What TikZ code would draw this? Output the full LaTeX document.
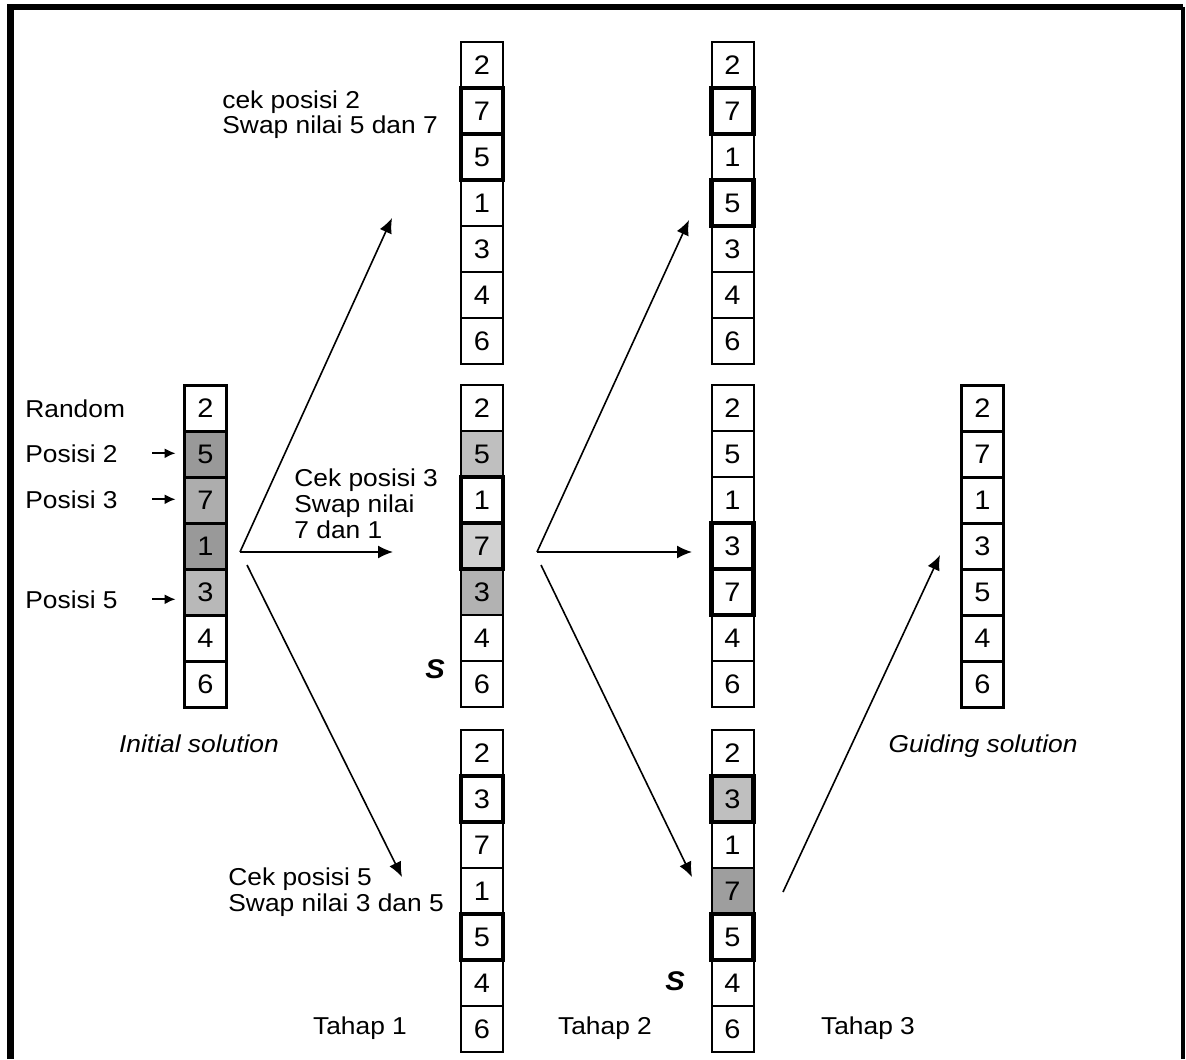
\documentclass[tikz,border=0pt]{standalone}
\usepackage{fontspec}
\setmainfont{Liberation Sans}[FakeStretch=1.08]
\usetikzlibrary{arrows.meta}

% one column of seven cells: name, x, top y, list of value/fill
\newcommand{\kolom}[5][]{%
  \foreach \v/\f [count=\i] in {#5}
    \node[cell,fill=\f,#1] (#2\i) at (#3,{#4+23+(\i-1)*46}) {\v};}

\begin{document}
\begin{tikzpicture}[x=0.5pt,y=-0.5pt,font=\fontsize{12.2}{13}\selectfont,
    cell/.style={draw,line width=1pt,minimum width=21pt,minimum height=23pt,inner sep=0pt,outer sep=0pt,
      font=\fontsize{13.4}{14}\selectfont},
    swapped/.style={line width=2.2pt},
    lbl/.style={anchor=base west,align=left,inner sep=0pt},
    judul/.style={anchor=base,inner sep=0pt,font=\fontsize{12.2}{13}\selectfont\itshape},
    huruf/.style={anchor=base,inner sep=0pt,font=\fontsize{13.5}{15}\selectfont\bfseries\itshape},
    jump/.style={-{Latex[length=7.5pt,width=6.5pt]},line width=0.8pt},
    tick/.style={-{Latex[length=5.5pt,width=5pt]},line width=0.8pt,shorten <=17pt,shorten >=4.5pt}]
  \useasboundingbox (0,0) rectangle (1186,1059);
  % frame
  \draw[line width=3.2pt] (10.5,1059) -- (10.5,7) -- (1183,7);
  \draw[line width=2pt] (1183,7) -- (1183,1059);

  % columns
  \kolom[line width=1.5pt]{ini}{205.5}{385}{2/white,5/black!40,7/black!32,1/black!40,3/black!28,4/white,6/white}
  \kolom{ta}{482}{42}{2/white,7/white,5/white,1/white,3/white,4/white,6/white}
  \kolom{ma}{482}{385}{2/white,5/black!25,1/white,7/black!18,3/black!30,4/white,6/white}
  \kolom{ba}{482}{730}{2/white,3/white,7/white,1/white,5/white,4/white,6/white}
  \kolom{tb}{732.5}{42}{2/white,7/white,1/white,5/white,3/white,4/white,6/white}
  \kolom{mb}{732.5}{385}{2/white,5/white,1/white,3/white,7/white,4/white,6/white}
  \kolom{bb}{732.5}{730}{2/white,3/black!25,1/white,7/black!38,5/white,4/white,6/white}
  \kolom[line width=1.5pt]{gd}{982.5}{385}{2/white,7/white,1/white,3/white,5/white,4/white,6/white}

  % swapped cells
  \foreach \c in {ta2,ta3,tb2,tb4,ma3,ma4,mb4,mb5,ba2,ba5,bb2,bb5}
    \draw[swapped] (\c.north west) rectangle (\c.south east);

  % position labels
  \node[lbl] (rnd) at (25,417) {Random};
  \node[lbl] (p2) at (25,462) {Posisi 2};
  \node[lbl] (p3) at (25,508) {Posisi 3};
  \node[lbl] (p5) at (25,608) {Posisi 5};
  \draw[tick] (p2.east) -- (p2.east -| ini2.west);
  \draw[tick] (p3.east) -- (p3.east -| ini3.west);
  \draw[tick] (p5.east) -- (p5.east -| ini5.west);

  \node[lbl] (cek2) at (222,134) {cek posisi 2\\Swap nilai 5 dan 7};
  \node[lbl] (cek3) at (294,538) {Cek posisi 3\\Swap nilai\\7 dan 1};
  \node[lbl] (cek5) at (228,911) {Cek posisi 5\\Swap nilai 3 dan 5};

  \node[judul] (init) at (199,752) {Initial solution};
  \node[judul] (guide) at (983,752) {Guiding solution};
  \node[huruf] (sa) at (435,678) {S};
  \node[huruf] (sb) at (675,990) {S};

  \node[anchor=base] (th1) at (360,1034) {Tahap 1};
  \node[anchor=base] (th2) at (605,1034) {Tahap 2};
  \node[anchor=base] (th3) at (868,1034) {Tahap 3};

  % moves
  \coordinate (o1) at (240,552);
  \coordinate (o1d) at (247,565);
  \coordinate (u1) at (392,218);
  \coordinate (h1) at (393,552);
  \coordinate (d1) at (402,877);
  \coordinate (o2) at (537,552);
  \coordinate (o2d) at (541,565);
  \coordinate (u2) at (689,220);
  \coordinate (h2) at (692,552);
  \coordinate (d2) at (692,877);
  \coordinate (o3) at (783,892);
  \coordinate (u3) at (940,555);
  \foreach \a/\b in {o1/u1,o1/h1,o1d/d1,o2/u2,o2/h2,o2d/d2,o3/u3}
    \draw[jump] (\a) -- (\b);
\end{tikzpicture}
\end{document}
